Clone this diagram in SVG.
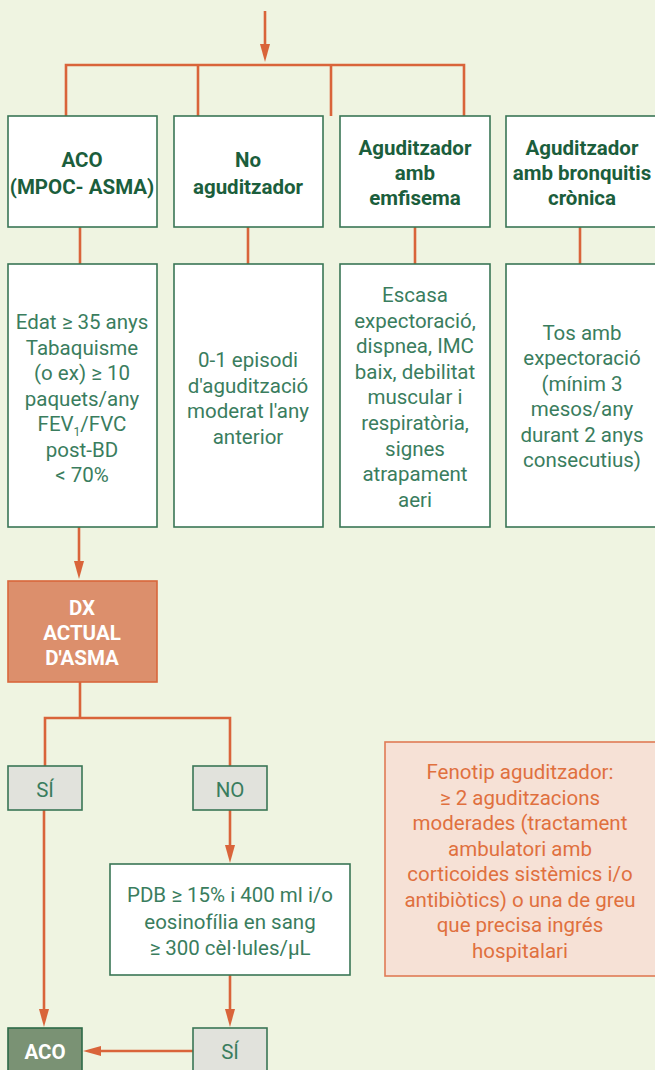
<svg xmlns="http://www.w3.org/2000/svg" width="655" height="1070" viewBox="0 0 655 1070">
<defs>
<marker id="ah" markerUnits="userSpaceOnUse" markerWidth="18" markerHeight="12" refX="10" refY="6" orient="auto">
<path d="M0,1 L18,6 L0,11 z" fill="#d9643a"/>
</marker>
<style>
.bx{fill:#ffffff;stroke:#3a7656;stroke-width:1.6}
.gr{fill:#e1e2dc;stroke:#3a7656;stroke-width:1.6}
.dx{fill:#dc8f6c;stroke:#d9663b;stroke-width:1.6}
.aco{fill:#7a9274;stroke:#2d6a48;stroke-width:1.6}
.fen{fill:#f6e1d6;stroke:#e07b55;stroke-width:1.6}
.ln{fill:none;stroke:#d9643a;stroke-width:2.6}
text{font-family:Roboto,"Liberation Sans",sans-serif;font-size:20.5px;text-anchor:middle}
.h{font-weight:bold;fill:#1b5e3c;font-size:20.5px}
.t{fill:#3a7d5e}
.w{font-weight:bold;fill:#ffffff}
.o{fill:#e0703e}
</style>
</defs>
<rect width="655" height="1070" fill="#eff4e1"/>
<g id="connectors">
<path class="ln" d="M265,11 V54" marker-end="url(#ah)"/>
<path class="ln" d="M66,116 V65 H464 V116"/>
<path class="ln" d="M198,65 V116"/>
<path class="ln" d="M331,65 V116"/>
<path class="ln" d="M80,227 V264"/>
<path class="ln" d="M248,227 V264"/>
<path class="ln" d="M415,227 V264"/>
<path class="ln" d="M580,227 V264"/>
<path class="ln" d="M79,527 V571" marker-end="url(#ah)"/>
<path class="ln" d="M80,682 V718"/>
<path class="ln" d="M45,766 V718 H230 V766"/>
<path class="ln" d="M230,810 V855" marker-end="url(#ah)"/>
<path class="ln" d="M44,810 V1019" marker-end="url(#ah)"/>
<path class="ln" d="M230,975 V1019" marker-end="url(#ah)"/>
<path class="ln" d="M193,1051 H91" marker-end="url(#ah)"/>
</g>
<g id="n-aco-head">
<rect class="bx" x="8" y="116" width="149" height="111"/>
<text class="h" x="82" y="167">ACO</text>
<text class="h" x="82" y="194">(MPOC- ASMA)</text>
</g>
<g id="n-noagud">
<rect class="bx" x="174" y="116" width="149" height="111"/>
<text class="h" x="248" y="167">No</text>
<text class="h" x="248" y="194">aguditzador</text>
</g>
<g id="n-emfisema">
<rect class="bx" x="340" y="116" width="150" height="111"/>
<text class="h" x="415" y="155">Aguditzador</text>
<text class="h" x="415" y="180">amb</text>
<text class="h" x="415" y="205">emfisema</text>
</g>
<g id="n-bronquitis">
<rect class="bx" x="506" y="116" width="160" height="111"/>
<text class="h" x="582" y="155">Aguditzador</text>
<text class="h" x="582" y="180">amb bronquitis</text>
<text class="h" x="582" y="205">crònica</text>
</g>
<g id="n-aco-crit">
<rect class="bx" x="8" y="264" width="149" height="263"/>
<text class="t" x="82" y="329">Edat ≥ 35 anys</text>
<text class="t" x="82" y="354.5">Tabaquisme</text>
<text class="t" x="82" y="380">(o ex) ≥ 10</text>
<text class="t" x="82" y="405.5">paquets/any</text>
<text class="t" x="82" y="431">FEV<tspan font-size="12" dy="5">1</tspan><tspan dy="-5">/FVC</tspan></text>
<text class="t" x="82" y="456.5">post-BD</text>
<text class="t" x="82" y="482">&lt; 70%</text>
</g>
<g id="n-noagud-crit">
<rect class="bx" x="174" y="264" width="149" height="263"/>
<text class="t" x="248" y="367">0-1 episodi</text>
<text class="t" x="248" y="392.5">d'agudització</text>
<text class="t" x="248" y="418">moderat l'any</text>
<text class="t" x="248" y="443.5">anterior</text>
</g>
<g id="n-emfisema-crit">
<rect class="bx" x="340" y="264" width="150" height="263"/>
<text class="t" x="415" y="302">Escasa</text>
<text class="t" x="415" y="327.6">expectoració,</text>
<text class="t" x="415" y="353.2">dispnea, IMC</text>
<text class="t" x="415" y="378.8">baix, debilitat</text>
<text class="t" x="415" y="404.4">muscular i</text>
<text class="t" x="415" y="430">respiratòria,</text>
<text class="t" x="415" y="455.6">signes</text>
<text class="t" x="415" y="481.2">atrapament</text>
<text class="t" x="415" y="506.8">aeri</text>
</g>
<g id="n-bronquitis-crit">
<rect class="bx" x="506" y="264" width="160" height="263"/>
<text class="t" x="582" y="340">Tos amb</text>
<text class="t" x="582" y="365.4">expectoració</text>
<text class="t" x="582" y="390.8">(mínim 3</text>
<text class="t" x="582" y="416.2">mesos/any</text>
<text class="t" x="582" y="441.6">durant 2 anys</text>
<text class="t" x="582" y="467">consecutius)</text>
</g>
<g id="n-dx">
<rect class="dx" x="8" y="581" width="149" height="101"/>
<text class="w" x="82" y="615">DX</text>
<text class="w" x="82" y="640">ACTUAL</text>
<text class="w" x="82" y="665">D'ASMA</text>
</g>
<g id="n-si1">
<rect class="gr" x="8" y="766" width="74" height="44"/>
<text class="t" x="45" y="797">SÍ</text>
</g>
<g id="n-no">
<rect class="gr" x="193" y="766" width="74" height="44"/>
<text class="t" x="230" y="797">NO</text>
</g>
<g id="n-pdb">
<rect class="bx" x="110" y="864" width="240" height="111"/>
<text class="t" x="230" y="902">PDB ≥ 15% i 400 ml i/o</text>
<text class="t" x="230" y="929">eosinofília en sang</text>
<text class="t" x="230" y="955">≥ 300 cèl·lules/µL</text>
</g>
<g id="n-si2">
<rect class="gr" x="193" y="1028" width="74" height="50"/>
<text class="t" x="230" y="1059">SÍ</text>
</g>
<g id="n-aco">
<rect class="aco" x="8" y="1028" width="74" height="50"/>
<text class="w" x="45" y="1059">ACO</text>
</g>
<g id="n-fenotip">
<rect class="fen" x="385" y="742" width="280" height="234"/>
<text class="o" x="520" y="779">Fenotip aguditzador:</text>
<text class="o" x="520" y="804.5">≥ 2 aguditzacions</text>
<text class="o" x="520" y="830">moderades (tractament</text>
<text class="o" x="520" y="855.5">ambulatori amb</text>
<text class="o" x="520" y="881">corticoides sistèmics i/o</text>
<text class="o" x="520" y="906.5">antibiòtics) o una de greu</text>
<text class="o" x="520" y="932">que precisa ingrés</text>
<text class="o" x="520" y="957.5">hospitalari</text>
</g>
</svg>
